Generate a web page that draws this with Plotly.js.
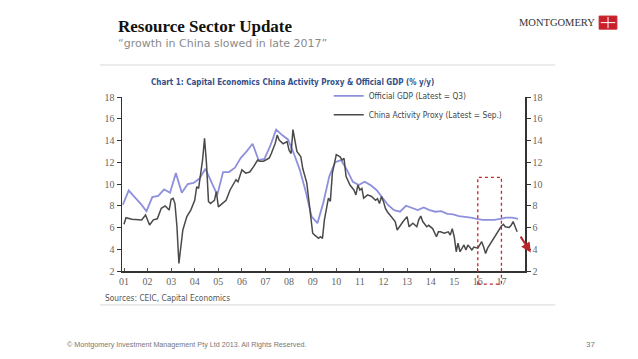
<!DOCTYPE html>
<html>
<head>
<meta charset="utf-8">
<script src="https://cdn.plot.ly/plotly-3.0.1.min.js"></script>
<style>
html,body{margin:0;padding:0;background:#fff;}
#chart{width:638px;height:359px;}
</style>
</head>
<body>
<div id="chart"></div>
<script>
// ---- Data ----
// Official GDP, quarterly (% y/y), 2000Q4 .. 2017Q3
var gdpValues = [8.1,
  9.4, 8.8, 8.2, 7.5,
  8.8, 8.9, 9.5, 9.2,
  11.0, 9.2, 10.0, 10.1,
  10.5, 11.4, 10.2, 9.0,
  11.1, 11.1, 11.5, 12.4,
  13.0, 13.7, 12.2, 12.3,
  13.5, 15.0, 14.5, 14.1,
  12.8, 11.3, 9.3, 7.0,
  6.4, 8.3, 10.7, 12.0,
  12.2, 11.3, 10.2, 9.9,
  10.2, 9.9, 9.45, 8.8,
  8.05, 7.6, 7.45, 8.0,
  7.8, 7.6, 7.85, 7.6,
  7.45, 7.5, 7.25, 7.2,
  7.05, 7.0, 6.9, 6.8,
  6.7, 6.7, 6.7, 6.8,
  6.9, 6.9, 6.8];

// China Activity Proxy, monthly readings (% y/y)
var proxyDates = ["2001-01","2001-02","2001-05","2001-08","2001-10","2001-12",
  "2002-02","2002-04","2002-06","2002-08","2002-10","2002-12",
  "2003-01","2003-02","2003-03","2003-04","2003-05","2003-07","2003-09","2003-11",
  "2004-01","2004-02","2004-03","2004-05","2004-06","2004-07","2004-08","2004-09","2004-11","2004-12",
  "2005-01","2005-03","2005-05","2005-07","2005-10","2005-11",
  "2006-01","2006-03","2006-05","2006-07","2006-09","2006-10","2006-12",
  "2007-02","2007-03","2007-04","2007-06","2007-07","2007-08","2007-10","2007-12",
  "2008-01","2008-02","2008-03","2008-04","2008-05","2008-07","2008-08","2008-10","2008-12",
  "2009-01","2009-02","2009-04","2009-05","2009-06","2009-07","2009-08","2009-09","2009-10","2009-11",
  "2010-01","2010-03","2010-04","2010-05","2010-06","2010-08","2010-10","2010-11","2010-12",
  "2011-01","2011-02","2011-03","2011-05","2011-07","2011-09","2011-10","2011-11","2011-12",
  "2012-01","2012-02","2012-03","2012-05","2012-07","2012-08","2012-09","2012-11",
  "2013-01","2013-02","2013-04","2013-06","2013-07","2013-08","2013-09","2013-11","2013-12",
  "2014-02","2014-04","2014-05","2014-06","2014-08","2014-10","2014-11","2014-12",
  "2015-01","2015-02","2015-03","2015-04","2015-06","2015-07","2015-08","2015-10","2015-11",
  "2016-01","2016-03","2016-04","2016-05","2016-06","2016-08","2016-09","2016-11",
  "2017-01","2017-02","2017-03","2017-05","2017-06","2017-07","2017-08","2017-09"];
var proxyValues = [6.3,6.9,6.75,6.75,6.7,7.15,
  6.23,6.7,6.8,7.77,7.98,7.6,
  8.6,8.68,8.2,6.07,2.7,5.77,7.0,7.6,
  8.5,9.75,9.6,12.2,14.2,11.9,8.4,8.2,8.5,9.3,
  7.9,8.2,8.5,9.45,10.4,10.2,
  11.3,11.0,11.1,11.6,12.2,12.1,12.1,
  12.3,12.4,12.8,13.75,14.5,14.05,13.7,13.9,
  13.1,12.8,15.0,14.05,13.0,12.5,11.4,10.1,6.7,
  5.47,5.3,5.0,5.15,5.0,6.7,7.9,8.7,8.4,11.0,
  12.7,12.5,12.2,12.35,10.7,9.9,9.45,9.0,9.9,
  9.45,9.6,8.7,9.0,8.85,8.5,8.65,8.2,8.85,
  8.4,7.75,7.45,7.0,6.55,5.77,6.07,6.55,
  7.0,6.07,6.4,6.07,6.7,7.06,6.55,6.07,6.2,
  5.9,5.15,5.6,5.6,5.47,5.6,5.3,5.9,
  5.15,3.77,4.55,3.77,4.4,3.93,4.4,3.93,4.2,
  4.1,4.7,4.2,3.6,4.1,4.7,5.0,5.6,
  6.14,6.3,6.07,6.0,6.2,6.55,6.07,5.6];

var yearTicks = ["01","02","03","04","05","06","07","08","09","10","11","12","13","14","15","16","17"];
var highlightStart = "2016-01-01", highlightEnd = "2017-01-01";

// ---- Build quarterly dates (quarter-end months) ----
var gdpDates = [];
(function(){
  var y = 2000, q = 4;
  for (var i = 0; i < gdpValues.length; i++) {
    var m = q * 3;
    gdpDates.push(y + "-" + (m < 10 ? "0" + m : m) + "-15");
    q++; if (q > 4) { q = 1; y++; }
  }
})();
var tickVals = yearTicks.map(function(t){ return "20" + t + "-01-01"; });

var NARROW = "Liberation Sans Narrow, DejaVu Sans Condensed, Arial Narrow, sans-serif";
var SERIF = "Liberation Serif, DejaVu Serif, serif";

var traces = [
  {x: gdpDates, y: gdpValues, type: "scatter", mode: "lines",
   name: "Official GDP (Latest = Q3)",
   line: {color: "#8e90dc", width: 1.8}},
  {x: proxyDates, y: proxyValues, type: "scatter", mode: "lines",
   name: "China Activity Proxy (Latest = Sep.)", yaxis: "y2",
   line: {color: "#4a4a4a", width: 1.5}}
];

var axisCommon = {
  range: [2, 18], dtick: 2, tick0: 2, showgrid: false, zeroline: false,
  showline: true, linecolor: "#333", linewidth: 1.5,
  ticks: "outside", ticklen: 4, tickcolor: "#333", tickwidth: 1,
  tickfont: {family: SERIF, size: 10, color: "#666"}, fixedrange: true
};

var layout = {
  width: 638, height: 359,
  margin: {l: 122, r: 113, t: 97, b: 88},
  paper_bgcolor: "#fff", plot_bgcolor: "#fff",
  showlegend: true,
  legend: {x: 0.513, y: 1.09, xanchor: "left", yanchor: "top",
           bgcolor: "rgba(0,0,0,0)", tracegroupgap: 0, itemwidth: 30,
           font: {family: NARROW, size: 8.3, color: "#444"}},
  xaxis: {type: "date", range: ["2000-12-01", "2018-01-01"],
          tickvals: tickVals, ticktext: yearTicks,
          showgrid: false, zeroline: false, showline: true,
          linecolor: "#333", linewidth: 1.5,
          ticks: "inside", ticklen: 3, tickcolor: "#555",
          tickfont: {family: SERIF, size: 10, color: "#666"}},
  yaxis: Object.assign({}, axisCommon, {side: "left"}),
  yaxis2: Object.assign({}, axisCommon, {side: "right", overlaying: "y"}),
  shapes: [
    {type: "line", xref: "paper", yref: "paper", x0: -0.055, x1: 1.075, y0: 1.184, y1: 1.184,
     line: {color: "#d8d8d8", width: 1}},
    {type: "line", xref: "paper", yref: "paper", x0: -0.055, x1: 1.075, y0: -0.195, y1: -0.195,
     line: {color: "#d8d8d8", width: 1}},
    {type: "rect", xref: "x", yref: "paper", x0: highlightStart, x1: highlightEnd,
     y0: -0.076, y1: 0.538, line: {color: "#c0282d", width: 1.3, dash: "dot"}},
    {type: "rect", xref: "paper", yref: "paper", x0: 1.184, x1: 1.228, y0: 1.39, y1: 1.465,
     fillcolor: "#c8202a", line: {color: "#c8202a", width: 1}},
    {type: "line", xref: "paper", yref: "paper", x0: 1.206, x1: 1.206, y0: 1.395, y1: 1.46,
     line: {color: "#fff", width: 1}},
    {type: "line", xref: "paper", yref: "paper", x0: 1.188, x1: 1.224, y0: 1.4275, y1: 1.4275,
     line: {color: "#fff", width: 1}}
  ],
  annotations: [
    {text: "<b>Resource Sector Update</b>", xref: "paper", yref: "paper", x: -0.016, y: 1.408,
     xanchor: "left", yanchor: "middle", showarrow: false,
     font: {family: SERIF, size: 17, color: "#111"}},
    {text: "\u201cgrowth in China slowed in late 2017\u201d", xref: "paper", yref: "paper", x: -0.016, y: 1.31,
     xanchor: "left", yanchor: "middle", showarrow: false,
     font: {family: "DejaVu Sans, Verdana, sans-serif", size: 11, color: "#8a8a8a"}},
    {text: "MONTGOMERY", xref: "paper", yref: "paper", x: 1.178, y: 1.43,
     xanchor: "right", yanchor: "middle", showarrow: false,
     font: {family: SERIF, size: 10.5, color: "#333"}},
    {text: "<b>Chart 1: Capital Economics China Activity Proxy &amp; Official GDP (% y/y)</b>",
     xref: "paper", yref: "paper", x: 0.068, y: 1.085, xanchor: "left", yanchor: "middle", showarrow: false,
     font: {family: NARROW, size: 8, color: "#34508a"}},
    {text: "Sources: CEIC, Capital Economics", xref: "paper", yref: "paper", x: -0.048, y: -0.155,
     xanchor: "left", yanchor: "middle", showarrow: false,
     font: {family: NARROW, size: 8.3, color: "#555"}},
    {text: "\u00a9 Montgomery Investment Management Pty Ltd 2013. All Rights Reserved.",
     xref: "paper", yref: "paper", x: -0.142, y: -0.42, xanchor: "left", yanchor: "middle", showarrow: false,
     font: {family: "Liberation Sans, Arial, sans-serif", size: 7.2, color: "#777"}},
    {text: "37", xref: "paper", yref: "paper", x: 1.163, y: -0.42, xanchor: "center", yanchor: "middle", showarrow: false,
     font: {family: "Liberation Sans, Arial, sans-serif", size: 8, color: "#777"}},
    {text: "", xref: "x", yref: "y", x: "2018-04-01", y: 3.7, axref: "x", ayref: "y",
     ax: "2017-10-10", ay: 5.3, showarrow: true, arrowhead: 2, arrowsize: 1, arrowwidth: 2,
     arrowcolor: "#b8262b"}
  ]
};

Plotly.newPlot("chart", traces, layout, {displayModeBar: false, staticPlot: true});
</script>
</body>
</html>
